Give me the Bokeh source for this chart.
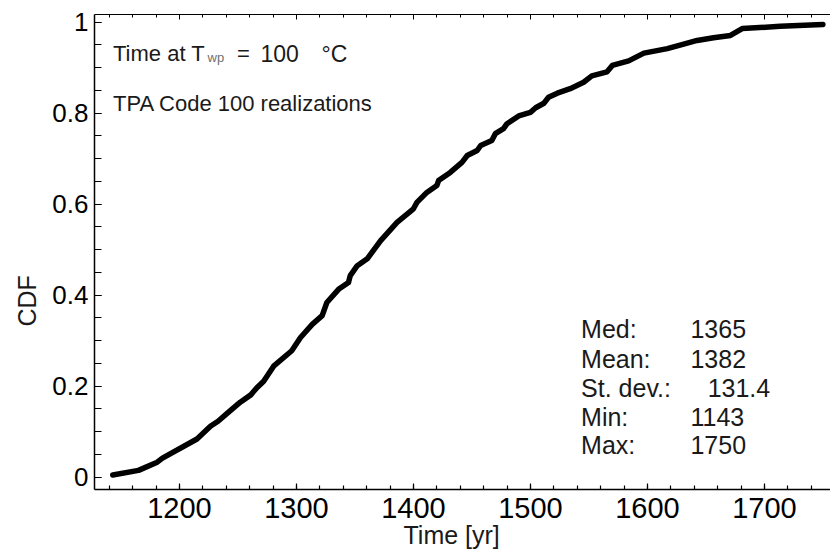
import math

from bokeh.embed import file_html
from bokeh.models import (ColumnDataSource, CustomJSTickFormatter, Label,
                          LinearAxis, Range1d, SingleIntervalTicker, Title)
from bokeh.plotting import figure
from bokeh.resources import INLINE

# Empirical CDF of the time at which the waste-package temperature reaches 100 C
time_yr = [1143, 1165, 1181, 1185.5, 1215, 1226.5, 1233, 1241, 1252, 1261, 1266,
           1272, 1280.5, 1296, 1303.5, 1313.5, 1322, 1326, 1336, 1344.5, 1346,
           1352, 1360.5, 1372, 1386, 1400, 1403, 1411.5, 1420, 1421.5, 1431.5,
           1441.5, 1446, 1454.5, 1457.5, 1467, 1470, 1477, 1480, 1490, 1500,
           1504.5, 1511.5, 1515.5, 1523, 1534, 1545.5, 1552.5, 1565.5, 1570,
           1584, 1597, 1617, 1631, 1642.5, 1656.5, 1671, 1681, 1713.5, 1750]
cdf = [0.005, 0.015, 0.033, 0.042, 0.084, 0.112, 0.123, 0.141, 0.165, 0.181, 0.196,
       0.211, 0.244, 0.278, 0.307, 0.336, 0.355, 0.384, 0.413, 0.428, 0.443,
       0.465, 0.480, 0.520, 0.560, 0.590, 0.604, 0.626, 0.641, 0.652, 0.670,
       0.692, 0.707, 0.718, 0.729, 0.740, 0.755, 0.766, 0.777, 0.794, 0.802,
       0.812, 0.822, 0.835, 0.844, 0.854, 0.868, 0.882, 0.891, 0.905, 0.915,
       0.932, 0.942, 0.952, 0.960, 0.966, 0.971, 0.986, 0.991, 0.995]

x_ticks = [1200, 1300, 1400, 1500, 1600, 1700]
x_tick_labels = ["1200", "1300", "1400", "1500", "1600", "1700"]
y_ticks = [0, 0.2, 0.4, 0.6, 0.8, 1.0]
y_tick_labels = ["0", "0.2", "0.4", "0.6", "0.8", "1"]

stat_names = ["Med:", "Mean:", "St. dev.:", "Min:", "Max:"]
stat_values = ["1365", "1382", "131.4", "1143", "1750"]

FONT = "Liberation Sans"
NARROW = "'Liberation Sans Narrow', 'Arial Narrow', 'Liberation Sans'"
INK = "#1a1a1a"

p = figure(width=830, height=554, output_backend="svg", toolbar_location=None,
           x_range=Range1d(1127.4, 1756.5), y_range=Range1d(-0.027, 1.017),
           min_border_left=94, min_border_right=0, min_border_top=14,
           min_border_bottom=65)
p.outline_line_color = None
p.grid.visible = False
p.background_fill_color = "white"
p.border_fill_color = "white"

src = ColumnDataSource(dict(t=time_yr, f=cdf))
p.line("t", "f", source=src, line_color="black", line_width=5.5,
       line_join="round", line_cap="round")

label_js = ("const i = tick_vals.findIndex(v => Math.abs(v - tick) < 1e-6);"
            "return i >= 0 ? tick_text[i] : '';")

# bottom axis
xa = p.xaxis[0]
xa.ticker = SingleIntervalTicker(interval=100, num_minor_ticks=5)
xa.formatter = CustomJSTickFormatter(
    args=dict(tick_vals=x_ticks, tick_text=x_tick_labels), code=label_js)
xa.major_tick_in = 6
xa.major_tick_out = 0
xa.minor_tick_in = 4
xa.minor_tick_out = 0
xa.axis_line_width = 1.5
xa.major_tick_line_width = 1.2
xa.minor_tick_line_width = 1.2
xa.major_label_text_font = NARROW
xa.major_label_text_font_size = "29px"
xa.major_label_text_color = "black"
xa.major_label_standoff = 8

# left axis
ya = p.yaxis[0]
ya.ticker = SingleIntervalTicker(interval=0.2, num_minor_ticks=4)
ya.formatter = CustomJSTickFormatter(
    args=dict(tick_vals=y_ticks, tick_text=y_tick_labels), code=label_js)
ya.major_tick_in = 7
ya.major_tick_out = 0
ya.minor_tick_in = 7
ya.minor_tick_out = 0
ya.axis_line_width = 1.5
ya.major_tick_line_width = 1.2
ya.minor_tick_line_width = 1.2
ya.major_label_text_font = FONT
ya.major_label_text_font_size = "26px"
ya.major_label_text_color = "black"
ya.major_label_standoff = 6

# top frame edge with inward ticks
top = LinearAxis(ticker=SingleIntervalTicker(interval=100, num_minor_ticks=5),
                 formatter=CustomJSTickFormatter(code="return '';"),
                 major_tick_in=5, major_tick_out=0, minor_tick_in=3,
                 minor_tick_out=0, major_label_standoff=0,
                 major_label_text_font_size="1px", axis_line_width=1.2)
p.add_layout(top, "above")

# axis titles
p.add_layout(Title(text="Time [yr]", align="left", offset=309, standoff=-4,
                   text_font=FONT, text_font_size="25px",
                   text_font_style="normal", text_color=INK), "below")
p.add_layout(Title(text="CDF", align="left", offset=163, standoff=18,
                   text_font=FONT, text_font_size="25px",
                   text_font_style="normal", text_color=INK), "left")

# title block
def note(x, y, text, size="22px", color=INK):
    p.add_layout(Label(x=x, y=y, text=text, text_font=FONT,
                       text_font_size=size, text_baseline="alphabetic",
                       text_color=color))

note(1143.2, 0.9305, "Time at T")
note(1224.0, 0.922, "wp", size="13px", color="#707070")
note(1249.3, 0.9305, "=")
note(1269.2, 0.9305, "100", size="23px")
note(1321.4, 0.9305, "°C", size="23px")
note(1143.2, 0.8213, "TPA Code 100 realizations")

# summary statistics
row_y = [0.326, 0.260, 0.196, 0.132, 0.070]
for name, val, yy in zip(stat_names, stat_values, row_y):
    note(1543.3, yy, name, size="25px")
    note(1651.5 if "." in val else 1636.8, yy, val, size="25px")

open("out.html", "w").write(file_html(p, INLINE))
